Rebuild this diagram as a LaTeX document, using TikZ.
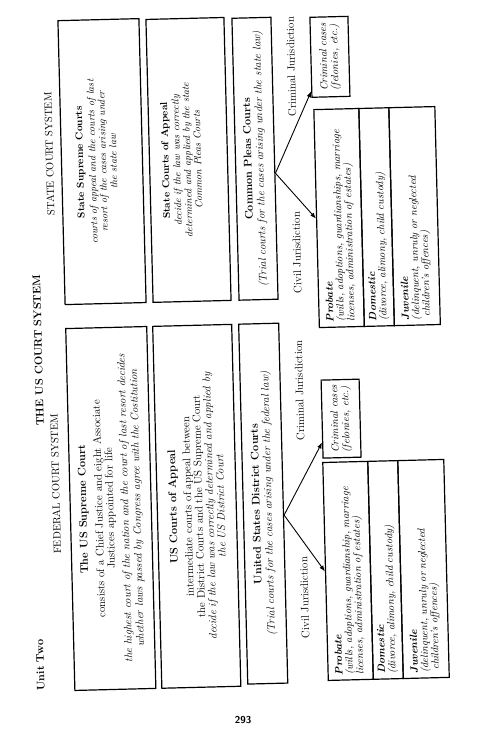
\documentclass[tikz,border=0pt]{standalone}
\usepackage{tikz}
\usetikzlibrary{positioning,arrows.meta}

\begin{document}
\begin{tikzpicture}[
  x=1pt, y=1pt,
  court/.style={draw, line width=1.2pt, align=center, inner sep=2pt},
  cell/.style={draw, line width=1.2pt, anchor=north west, align=left, minimum width=218pt, text width=208pt, inner xsep=5pt, font=\fontsize{10.5}{10.5}\selectfont\itshape},
  fedtxt/.style={font=\fontsize{11}{11}\selectfont},
  sttxt/.style={align=center, font=\fontsize{10}{10.5}\selectfont\itshape},
  jur/.style={font=\fontsize{11}{11}\selectfont},
  arr/.style={-{Latex[length=6pt,width=4.5pt]}, line width=0.9pt},
]
\useasboundingbox (0,0) rectangle (495,754);
\node[font=\sffamily\bfseries] (pagenum) at (243,34) {293};

% page is printed sideways
\begin{scope}[shift={(495,0)}, rotate=90, rotate around={1.45:(377,247.5)}, transform shape]
% Headings
\node[font=\fontsize{11}{11}\selectfont\bfseries] (unit) at (94,462) {Unit Two};
\node[font=\fontsize{11}{11}\selectfont\bfseries] (title) at (409,456) {THE US COURT SYSTEM};
\node[font=\fontsize{10.5}{11}\selectfont] (fedhead) at (275,442) {FEDERAL COURT SYSTEM};
\node[font=\fontsize{10.5}{11}\selectfont] (sthead) at (605,440) {STATE COURT SYSTEM};

% Federal courts
\node[court, fedtxt, minimum width=362pt, minimum height=81pt] (fedsup) at (249,387.5) {\textbf{The US Supreme Court}\\[5pt]
  consists of a Chief Justice and eight Associate\\ Justices appointed for life\\[4pt]
  \textit{the highest court of the nation and the court of last resort decides}\\[1pt]
  \textit{whether laws passed by Congress agree with the Costitution}};
\node[court, fedtxt, minimum width=362pt, minimum height=79pt] (fedapp) at (249,301.5) {\textbf{US Courts of Appeal}\\[4pt]
  intermediate courts of appeal between\\ the District Courts and the US Supreme Court\\
  \textit{decide if the law was correctly determined and applied by}\\
  \textit{the US District Court}};
\node[court, fedtxt, minimum width=360pt, minimum height=40pt] (feddist) at (250,235) {\textbf{United States District Courts}\\[1pt]
  \textit{(Trial courts for the cases arising under the federal law)}};
\node[court, align=left, font=\fontsize{10.5}{11}\selectfont\itshape, minimum width=78pt, minimum height=38pt] (fedcrim) at (333,155) {Criminal cases\\(felonies, etc.)};
\node[cell, minimum height=45pt] (fedprob) at (71,175) {\textbf{Probate}\\(wills, adoptions, guardianship, marriage\\licenses, administration of estates)};
\node[cell, minimum height=30pt] (feddom) at (71,130) {\textbf{Domestic}\\(divorce, alimony, child custody)};
\node[cell, minimum height=46pt] (fedjuv) at (71,100) {\textbf{Juvenile}\\(delinquent, unruly or neglected\\\hspace*{3pt}children's offences)};

\coordinate (fedfork) at ([xshift=-12pt]feddist.south);
\draw[arr] (fedfork) -- (fedcrim.140);
\draw[arr] (fedfork) -- (fedprob.north);
\node[jur] (fedciv) at (155,196) {Civil Jurisdiction};
\node[jur] (fedcri) at (362,196) {Criminal Jurisdiction};

% State courts
\node[court, minimum width=284pt, minimum height=81pt] (stsup) at (596,387.5) {};
\node[sttxt] (stsuptxt) at (596,393) {\textbf{\upshape State Supreme Courts}\\[2pt]
  courts of appeal and the courts of last\\ resort of the cases arising under\\ the state law};
\node[court, minimum width=283pt, minimum height=78pt] (stapp) at (595.5,301) {};
\node[sttxt] (stapptxt) at (595.5,308) {\textbf{\upshape State Courts of Appeal}\\[1pt]
  decide if the law was correctly\\ determined and applied by the state\\ Common Pleas Courts};
\node[court, fedtxt, minimum width=282pt, minimum height=39pt] (stcp) at (595,234.5) {\textbf{Common Pleas Courts}\\[1pt]
  \textit{(Trial courts for the cases arising under the state law)}};
\node[court, align=left, font=\fontsize{10.5}{11}\selectfont\itshape, minimum width=80pt, minimum height=38pt] (stcrim) at (695,157) {Criminal cases\\(felonies, etc.)};
\node[cell, minimum height=45pt] (stprob) at (424,175) {\textbf{Probate}\\(wills, adoptions, guardianships, marriage\\licenses, administration of estates)};
\node[cell, minimum height=30pt] (stdom) at (424,130) {\textbf{Domestic}\\(divorce, alimony, child custody)};
\node[cell, minimum height=46pt] (stjuv) at (424,100) {\textbf{Juvenile}\\(delinquent, unruly or neglected\\\hspace*{3pt}children's offences)};

\coordinate (stfork) at ([xshift=-15pt]stcp.south);
\draw[arr] (stfork) -- (stcrim.150);
\draw[arr] (stfork) -- (stprob.north);
\node[jur] (stciv) at (500,195) {Civil Jurisdiction};
\node[jur] (stcri) at (686,196) {Criminal Jurisdiction};
\end{scope}
\end{tikzpicture}
\end{document}
